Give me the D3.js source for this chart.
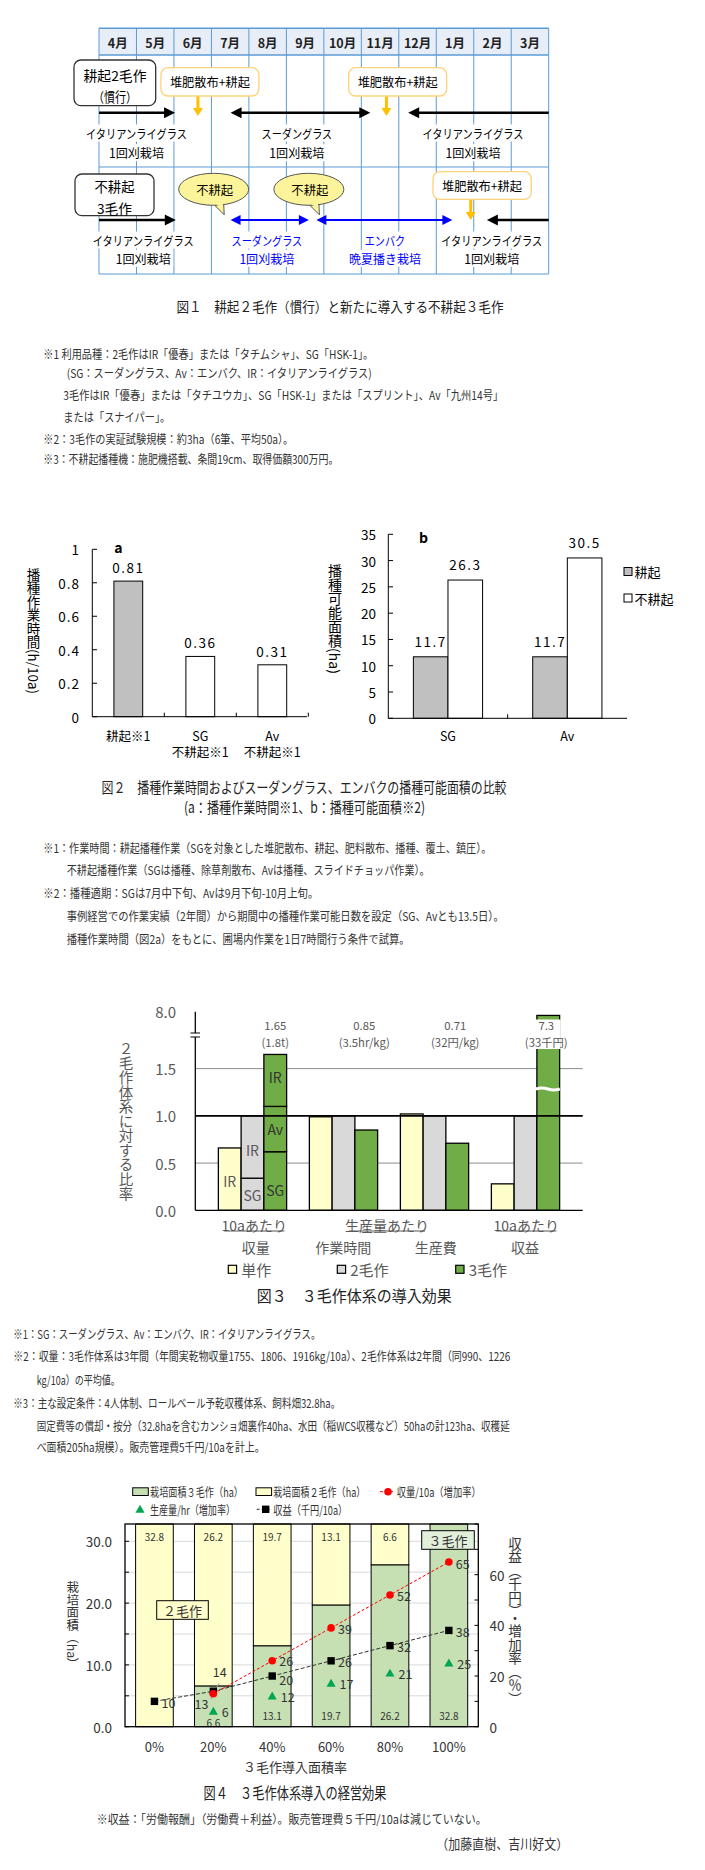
<!DOCTYPE html>
<html><head><meta charset="utf-8">
<script src="https://cdn.jsdelivr.net/npm/d3@7"></script>
<style>body{margin:0;background:#fff} svg{display:block}</style>
</head><body>
<svg id="c" width="705" height="1870"></svg>
<script>
// ===================== DATA =====================
// Figure 1 (calendar diagram)
const months = ['4月','5月','6月','7月','8月','9月','10月','11月','12月','1月','2月','3月'];
// arrow periods in months from start of April
const row1Arrows = [[0,2.03,false],[3.51,7.24,true],[12,8.25,false]];
const row2BlackArrows = [[0,2.05,false],[12,10.35,false]];
const row2BlueArrows = [[3.51,5.6,true],[5.8,9.43,true]];
const row1Crops = [['イタリアンライグラス','1回刈栽培',1.0],['スーダングラス','1回刈栽培',5.28],['イタリアンライグラス','1回刈栽培',9.98]];
const row2Crops = [['イタリアンライグラス','1回刈栽培',1.18,'#000'],['スーダングラス','1回刈栽培',4.48,'#0000ff'],['エンバク','晩夏播き栽培',7.63,'#0000ff'],['イタリアンライグラス','1回刈栽培',10.48,'#000']];
const row1Tillage = [2.96, 7.97];   // box centres
const row1TillArrow = [2.64, 7.67];
const row2Tillage = [10.22];
const row2TillArrow = [9.92];
const bubbles = [3.06, 5.6];

// Figure 2a
const cats2a = [['耕起※1'],['SG','不耕起※1'],['Av','不耕起※1']];
const vals2a = [0.81, 0.36, 0.31];
const ticks2a = [0,0.2,0.4,0.6,0.8,1];
// Figure 2b
const cats2b = ['SG','Av'];
const till2b = [11.7, 11.7];
const notill2b = [26.3, 30.5];
const ticks2b = [0,5,10,15,20,25,30,35];

// Figure 3
const groups3 = ['収量','作業時間','生産費','収益'];
const single3 = [0.66, 0.99, 1.02, 0.28];
const double3 = [1.0, 1.0, 1.0, 1.0];
const triple3 = [1.65, 0.85, 0.71, 7.3];
const doubleYieldParts = [['SG',0.34],['IR',0.66]];
const tripleYieldParts = [['SG',0.62],['Av',0.48],['IR',0.55]];
const topLabels3 = [['1.65','(1.8t)'],['0.85','(3.5hr/kg)'],['0.71','(32円/kg)'],['7.3','(33千円)']];
const ticks3 = [0,0.5,1.0,1.5,8.0];

// Figure 4
const pct4 = ['0%','20%','40%','60%','80%','100%'];
const area3crop = [0, 6.6, 13.1, 19.7, 26.2, 32.8];
const area2crop = [32.8, 26.2, 19.7, 13.1, 6.6, 0];
const yieldInc = [null, 13, 26, 39, 52, 65];
const prodInc = [null, 6, 12, 17, 21, 25];
const income = [10, 14, 20, 26, 32, 38];
const ticks4L = [0,10,20,30];
const ticks4R = [0,20,40,60];

// Notes
const notes1 = ['※1 利用品種：2毛作はIR「優春」または「タチムシャ」、SG「HSK-1」。',
 '(SG：スーダングラス、Av：エンバク、IR：イタリアンライグラス)',
 '3毛作はIR「優春」または「タチユウカ」、SG「HSK-1」または「スプリント」、Av「九州14号」',
 'または「スナイパー」。',
 '※2：3毛作の実証試験規模：約3ha（6筆、平均50a）。',
 '※3：不耕起播種機：施肥機搭載、条間19cm、取得価額300万円。'];
const notes2 = ['※1：作業時間：耕起播種作業（SGを対象とした堆肥散布、耕起、肥料散布、播種、覆土、鎮圧）。',
 '不耕起播種作業（SGは播種、除草剤散布、Avは播種、スライドチョッパ作業）。',
 '※2：播種適期：SGは7月中下旬、Avは9月下旬-10月上旬。',
 '事例経営での作業実績（2年間）から期間中の播種作業可能日数を設定（SG、Avとも13.5日）。',
 '播種作業時間（図2a）をもとに、圃場内作業を1日7時間行う条件で試算。'];
const notes3 = ['※1：SG：スーダングラス、Av：エンバク、IR：イタリアンライグラス。',
 '※2：収量：3毛作体系は3年間（年間実乾物収量1755、1806、1916kg/10a）、2毛作体系は2年間（同990、1226',
 'kg/10a）の平均値。',
 '※3：主な設定条件：4人体制、ロールベール予乾収穫体系、飼料畑32.8ha。',
 '固定費等の償却・按分（32.8haを含むカンショ畑裏作40ha、水田（稲WCS収穫など）50haの計123ha、収穫延',
 'べ面積205ha規模）。販売管理費5千円/10aを計上。'];

// ===================== DRAWING =====================
const F = "'Noto Sans CJK JP','Noto Sans',sans-serif";
const svg = d3.select('#c');
svg.append('rect').attr('width',705).attr('height',1870).attr('fill','#fff');

function T(g, s, x, y, o = {}) {
  const t = g.append('text').attr('x', x).attr('y', y).text(s)
    .attr('font-family', o.font || F).attr('font-size', o.size || 12)
    .attr('text-anchor', o.anchor || 'start').attr('fill', o.fill || '#000');
  if (o.vertical) t.style('writing-mode', 'vertical-rl');
  else t.attr('dominant-baseline','central');
  if (o.weight) t.attr('font-weight', o.weight);
  if (o.ls) t.attr('letter-spacing', o.ls);
  if (o.w) t.attr('textLength', o.w).attr('lengthAdjust','spacingAndGlyphs');
  if (o.bg) {
    const b = t.node().getBBox();
    g.insert('rect', () => t.node()).attr('x', b.x - 2).attr('y', b.y + 1).attr('width', b.width + 4).attr('height', b.height - 2).attr('fill', o.bg);
  }
  return t;
}
function arrowH(g, x1, x2, y, color, both, sw, hl, hw) {
  const dir = Math.sign(x2 - x1);
  g.append('line').attr('x1', both ? x1 + dir*hl*0.7 : x1).attr('x2', x2 - dir*hl*0.7)
    .attr('y1', y).attr('y2', y).attr('stroke', color).attr('stroke-width', sw);
  const head = (tip, d) => g.append('polygon')
    .attr('points', [[tip,y],[tip - d*hl, y - hw],[tip - d*hl, y + hw]].map(p => p.join(',')).join(' '))
    .attr('fill', color);
  head(x2, dir);
  if (both) head(x1, -dir);
}
function arrowDown(g, x, y1, y2, color) {
  g.append('line').attr('x1', x).attr('x2', x).attr('y1', y1).attr('y2', y2 - 6).attr('stroke', color).attr('stroke-width', 3);
  g.append('polygon').attr('points', `${x},${y2} ${x-5},${y2-8} ${x+5},${y2-8}`).attr('fill', color);
}

// ---------- Figure 1 ----------
{
  const g = svg.append('g');
  const mx = d3.scaleLinear().domain([0,12]).range([99,548.7]);
  const blue = '#5b9bd5';
  g.append('rect').attr('x', mx(0)).attr('y', 28.3).attr('width', mx(12)-mx(0)).attr('height', 26.7).attr('fill', '#e8eef8');
  d3.range(13).forEach(i => g.append('line').attr('x1', mx(i)).attr('x2', mx(i)).attr('y1', 28.3).attr('y2', 274).attr('stroke', blue).attr('stroke-width', 1));
  [28.3, 55, 167, 274].forEach(y => g.append('line').attr('x1', mx(0)).attr('x2', mx(12)).attr('y1', y).attr('y2', y).attr('stroke', blue).attr('stroke-width', y < 60 ? 1.5 : 1));
  months.forEach((m, i) => T(g, m, mx(i + 0.5), 42, {anchor:'middle', size:12.5, weight:'bold', fill:'#222'}));

  const box = (x, y, w, h, stroke) => g.append('rect').attr('x', x).attr('y', y).attr('width', w).attr('height', h).attr('rx', 7).attr('fill', '#fff').attr('stroke', stroke).attr('stroke-width', 1.3);
  // row 1
  box(74, 60, 81.7, 45.7, '#333');
  T(g, '耕起2毛作', 115, 75.2, {anchor:'middle', size:13.5, w:63});
  T(g, '（慣行）', 115, 95.5, {anchor:'middle', size:13.5, w:44});
  row1Tillage.forEach(c => { box(mx(c) - 49, 67.7, 98, 28.3, '#ffd27a'); T(g, '堆肥散布+耕起', mx(c), 81.8, {anchor:'middle', size:12.5, w:80}); });
  row1TillArrow.forEach(c => arrowDown(g, mx(c), 96.7, 116, '#ffc000'));
  row1Arrows.forEach(a => arrowH(g, mx(a[0]), mx(a[1]), 112.7, '#000', a[2], 2.5, 11, 5.5));
  row1Crops.forEach(c => {
    T(g, c[0], mx(c[2]), 133, {anchor:'middle', size:12.5, w: c[0].length * 10.1, bg:'#fff'});
    T(g, c[1], mx(c[2]), 152.7, {anchor:'middle', size:12.5, w:55, bg:'#fff'});
  });

  // row 2
  box(75, 174, 79, 41.7, '#333');
  T(g, '不耕起', 114.5, 186.3, {anchor:'middle', size:13.5, w:40});
  T(g, '3毛作', 114.5, 207.5, {anchor:'middle', size:13.5, w:35});
  bubbles.forEach(c => {
    const cx = mx(c), cy = 189.3;
    const tail = `${cx-1},${cy+14} ${cx+10},${cy+14} ${cx+10.5},${cy+25.5}`;
    g.append('polygon').attr('points', tail).attr('fill', '#fbf49a').attr('stroke', '#555').attr('stroke-width', 1);
    g.append('ellipse').attr('cx', cx).attr('cy', cy).attr('rx', 35).attr('ry', 16).attr('fill', '#fbf49a').attr('stroke', '#555').attr('stroke-width', 1);
    g.append('polygon').attr('points', `${cx},${cy+13} ${cx+9},${cy+13} ${cx+9.5},${cy+20}`).attr('fill', '#fbf49a');
    T(g, '不耕起', cx + 1, cy, {anchor:'middle', size:12.5, w:37});
  });
  row2Tillage.forEach(c => { box(mx(c) - 49, 171.7, 98.3, 27.6, '#ffd27a'); T(g, '堆肥散布+耕起', mx(c), 185.5, {anchor:'middle', size:12.5, w:80}); });
  row2TillArrow.forEach(c => arrowDown(g, mx(c), 200, 220, '#ffc000'));
  row2BlackArrows.forEach(a => arrowH(g, mx(a[0]), mx(a[1]), 220, '#000', a[2], 2.5, 11, 5.5));
  row2BlueArrows.forEach(a => arrowH(g, mx(a[0]), mx(a[1]), 220, '#0000ff', a[2], 2, 10, 5));
  row2Crops.forEach(c => {
    T(g, c[0], mx(c[2]), 240, {anchor:'middle', size:12.5, fill:c[3], w: c[0].length * 10.1, bg:'#fff'});
    T(g, c[1], mx(c[2]), 258.3, {anchor:'middle', size:12.5, fill:c[3], w: c[1].length * (c[1].length > 5 ? 12 : 11), bg:'#fff'});
  });
  T(g, '図１　耕起２毛作（慣行）と新たに導入する不耕起３毛作', 340, 306, {anchor:'middle', size:14, w:327, fill:'#222'});
}

// ---------- Notes helper ----------
function notes(lines, layout) {
  const g = svg.append('g');
  lines.forEach((s, i) => T(g, s, layout[i][0], layout[i][1], {size:12, w: layout[i][2], fill:'#333'}));
}
notes(notes1, [[43.3,353.3,330],[66.7,372.3,305],[63.3,394.3,440],[63.3,416.7,107],[43.3,438.3,250],[43.3,458.3,295]]);

// ---------- Figure 2a ----------
{
  const g = svg.append('g');
  const x = d3.scaleBand().domain(d3.range(3)).range([92.3, 308.3]).paddingInner(0.6).paddingOuter(0.3);
  const y = d3.scaleLinear().domain([0,1]).range([716.7, 549.3]);
  vals2a.forEach((v, i) => {
    g.append('rect').attr('x', x(i)).attr('y', y(v)).attr('width', x.bandwidth()).attr('height', y(0) - y(v))
      .attr('fill', i === 0 ? '#c0c0c0' : '#fff').attr('stroke', '#000').attr('stroke-width', 1);
    T(g, v.toFixed(2), x(i) + x.bandwidth()/2, y(v) - 14, {anchor:'middle', size:13.5, ls:1.5});
    cats2a[i].forEach((s, j) => T(g, s, x(i) + x.bandwidth()/2, 735 + j * 16.7, {anchor:'middle', size:12.5}));
  });
  g.append('line').attr('x1', 92.3).attr('x2', 92.3).attr('y1', y(1)).attr('y2', y(0)).attr('stroke', '#000');
  g.append('line').attr('x1', 92.3).attr('x2', 307).attr('y1', y(0)).attr('y2', y(0)).attr('stroke', '#000');
  ticks2a.forEach(t => {
    g.append('line').attr('x1', 92.3).attr('x2', 97).attr('y1', y(t)).attr('y2', y(t)).attr('stroke', '#000');
    T(g, t === 0 || t === 1 ? String(t) : t.toFixed(1), 80, y(t), {anchor:'end', size:13.5, ls:1});
  });
  [1,2,3].forEach(i => { const xx = 92.3 + i * x.step(); g.append('line').attr('x1', xx).attr('x2', xx).attr('y1', y(0)).attr('y2', y(0) - 4).attr('stroke', '#000'); });
  T(g, 'a', 114.3, 547, {size:14, weight:'bold'});
  T(g, '播種作業時間(h/10a)', 33.5, 631, {anchor:'middle', size:13.5, vertical:true});
}

// ---------- Figure 2b ----------
{
  const g = svg.append('g');
  const x = d3.scaleBand().domain(cats2b).range([388.3, 627]).paddingInner(0.42).paddingOuter(0.21);
  const xs = d3.scaleBand().domain(['till','notill']).range([0, x.bandwidth()]);
  const y = d3.scaleLinear().domain([0,35]).range([718.3, 534.3]);
  cats2b.forEach((c, i) => {
    [['till', till2b[i], '#c0c0c0'], ['notill', notill2b[i], '#fff']].forEach(([k, v, f]) => {
      const bx = x(c) + xs(k);
      g.append('rect').attr('x', bx).attr('y', y(v)).attr('width', xs.bandwidth()).attr('height', y(0) - y(v)).attr('fill', f).attr('stroke', '#000');
      T(g, v.toFixed(1), bx + xs.bandwidth()/2, y(v) - 16, {anchor:'middle', size:13.5, ls:1.5});
    });
    T(g, c, x(c) + x.bandwidth()/2, 735, {anchor:'middle', size:12.5});
  });
  g.append('line').attr('x1', 388.3).attr('x2', 388.3).attr('y1', y(35)).attr('y2', y(0)).attr('stroke', '#000');
  g.append('line').attr('x1', 388.3).attr('x2', 627).attr('y1', y(0)).attr('y2', y(0)).attr('stroke', '#000');
  ticks2b.forEach(t => {
    g.append('line').attr('x1', 388.3).attr('x2', 393).attr('y1', y(t)).attr('y2', y(t)).attr('stroke', '#000');
    T(g, String(t), 376, y(t), {anchor:'end', size:13.5});
  });
  g.append('line').attr('x1', 388.3 + x.step()).attr('x2', 388.3 + x.step()).attr('y1', y(0)).attr('y2', y(0) - 4).attr('stroke', '#000');
  T(g, 'b', 419, 537, {size:14, weight:'bold'});
  T(g, '播種可能面積(ha)', 335, 619, {anchor:'middle', size:14, vertical:true});
  [['耕起','#c0c0c0',571.5],['不耕起','#fff',598]].forEach(([s, f, yy]) => {
    g.append('rect').attr('x', 624).attr('y', yy - 4).attr('width', 8).attr('height', 8).attr('fill', f).attr('stroke', '#000');
    T(g, s, 634.5, yy, {size:13});
  });
}
{
  const g = svg.append('g');
  T(g, '図２　播種作業時間およびスーダングラス、エンバクの播種可能面積の比較', 304, 786.7, {anchor:'middle', size:15, w:405, fill:'#222'});
  T(g, '(a：播種作業時間※1、b：播種可能面積※2)', 304.5, 806.7, {anchor:'middle', size:15, w:241, fill:'#222'});
}
notes(notes2, [[43.3,847.3,448],[66.7,869,363],[43.3,892.3,275],[66.7,915,437],[66.7,938.3,343]]);

// ---------- Figure 3 ----------
{
  const g = svg.append('g');
  const gray = '#595959';
  const x = d3.scaleBand().domain(groups3).range([195.3, 582.7]).paddingInner(0.25).paddingOuter(0.2535);
  const xs = d3.scaleBand().domain(['s','d','t']).range([0, x.bandwidth()]);
  const y = d3.scaleLinear().domain([0, 1.75, 8]).range([1210.3, 1045, 1011.7]);
  const cols = {s:'#ffffcc', d:'#d9d9d9', t:'#70ad47'};
  [0.5, 1.5].forEach(t => g.append('line').attr('x1', 195.3).attr('x2', 582.7).attr('y1', y(t)).attr('y2', y(t)).attr('stroke', '#8c8c8c').attr('stroke-width', 1));
  const seg = (bx, v0, v1, f) => g.append('rect').attr('x', bx).attr('y', y(v1)).attr('width', xs.bandwidth()).attr('height', y(v0) - y(v1)).attr('fill', f).attr('stroke', '#000').attr('stroke-width', 1.3);
  groups3.forEach((grp, i) => {
    const xsx = x(grp) + xs('s'), xdx = x(grp) + xs('d'), xtx = x(grp) + xs('t');
    seg(xsx, 0, single3[i], cols.s);
    if (i === 0) {
      let acc = 0;
      doubleYieldParts.forEach(p => { seg(xdx, acc, acc + p[1], cols.d); acc += p[1]; });
      acc = 0;
      tripleYieldParts.forEach(p => { seg(xtx, acc, acc + p[1], cols.t); acc += p[1]; });
    } else {
      seg(xdx, 0, double3[i], cols.d);
      seg(xtx, 0, triple3[i], cols.t);
    }
  });
  g.append('line').attr('x1', 195.3).attr('x2', 582.7).attr('y1', y(1)).attr('y2', y(1)).attr('stroke', '#000').attr('stroke-width', 1.6);
  const c0 = groups3[0];
  const mid = (k) => x(c0) + xs(k) + xs.bandwidth()/2;
  T(g, 'IR', mid('s'), y(single3[0]/2) + 2, {anchor:'middle', size:14, fill:gray});
  let acc = 0;
  doubleYieldParts.forEach(p => { T(g, p[0], mid('d'), y(acc + p[1]/2) + (p[0]==='SG' ? 1 : 3), {anchor:'middle', size:14, fill:gray}); acc += p[1]; });
  acc = 0;
  tripleYieldParts.forEach(p => { T(g, p[0], mid('t'), y(acc + p[1]/2) + (p[0]==='IR' ? -3 : (p[0]==='SG' ? 9 : 0)), {anchor:'middle', size:14, fill:'#333'}); acc += p[1]; });
  const lastX = x(groups3[3]) + xs('t');
  g.append('path').attr('d', `M${lastX - 1},${1089} q6,-2 12,0 t12,0`).attr('fill', 'none').attr('stroke', '#fff').attr('stroke-width', 3);
  groups3.forEach((grp, i) => {
    const cx = x(grp) + xs('t') + xs.bandwidth()/2 - (i === 0 ? 0 : 2);
    if (i === 3) g.append('rect').attr('x', lastX - 1).attr('y', 1019.5).attr('width', xs.bandwidth() + 2).attr('height', 29.5).attr('fill', '#fff');
    T(g, topLabels3[i][0], cx, 1025.4, {anchor:'middle', size:11.3, fill:gray});
    T(g, topLabels3[i][1], cx, 1041.8, {anchor:'middle', size:11.3, fill:gray});
  });
  g.append('line').attr('x1', 195.3).attr('x2', 195.3).attr('y1', 1011.7).attr('y2', 1210.3).attr('stroke', '#000').attr('stroke-width', 1.3);
  g.append('line').attr('x1', 195.3).attr('x2', 582.7).attr('y1', 1210.3).attr('y2', 1210.3).attr('stroke', '#000').attr('stroke-width', 1.3);
  g.append('rect').attr('x', 190).attr('y', 1033).attr('width', 10).attr('height', 4).attr('fill', '#fff');
  [1033, 1037].forEach(yy => g.append('line').attr('x1', 190.5).attr('x2', 200).attr('y1', yy).attr('y2', yy).attr('stroke', '#000').attr('stroke-width', 1));
  ticks3.forEach(t => T(g, t.toFixed(1), 176, y(t), {anchor:'end', size:15, fill:gray}));
  T(g, '２毛作体系に対する比率', 126, 1121, {anchor:'middle', size:14.5, fill:gray, vertical:true});
  [['10aあたり', 254.3, 60], ['生産量あたり', 387, 76], ['10aあたり', 526.3, 60]].forEach(([s, cx, w]) => {
    T(g, s, cx, 1225, {anchor:'middle', size:14, fill:gray});
    g.append('line').attr('x1', cx - w/2).attr('x2', cx + w/2).attr('y1', 1231).attr('y2', 1231).attr('stroke', gray).attr('stroke-width', 1);
  });
  [255.7, 343.3, 435.7, 525].forEach((cx, i) => T(g, groups3[i], cx, 1246.7, {anchor:'middle', size:14, fill:gray}));
  [['単作', cols.s, 228.3], ['2毛作', cols.d, 337.3], ['3毛作', cols.t, 455.7]].forEach(([s, f, lx]) => {
    g.append('rect').attr('x', lx).attr('y', 1265.3).attr('width', 8.3).attr('height', 8).attr('fill', f).attr('stroke', '#000').attr('stroke-width', 1.2);
    T(g, s, lx + 13, 1269.5, {size:15, fill:gray});
  });
  T(g, '図３　３毛作体系の導入効果', 354.3, 1295, {anchor:'middle', size:15.5, w:195, fill:'#222'});
}
notes(notes3, [[13.3,1333.3,307],[13.3,1355,497],[36.7,1379,83],[13.3,1402.3,327],[36.7,1425,473],[36.7,1446.7,228]]);

// ---------- Figure 4 ----------
{
  const g = svg.append('g');
  const tc = '#333';
  const x = d3.scaleBand().domain(pct4).range([125, 478.3]).paddingInner(0.36).paddingOuter(0.18);
  const yL = d3.scaleLinear().domain([0, 32.8]).range([1726.7, 1524]);
  const yR = d3.scaleLinear().domain([0, 80]).range([1726.7, 1524]);
  const cx = (i) => x(pct4[i]) + x.bandwidth()/2;
  d3.range(5, 33, 5).forEach(t => g.append('line').attr('x1', 125).attr('x2', 478.3).attr('y1', yL(t)).attr('y2', yL(t)).attr('stroke', '#d9d9d9'));
  pct4.forEach((p, i) => {
    const a3 = area3crop[i], a2 = area2crop[i];
    if (a3 > 0) g.append('rect').attr('x', x(p)).attr('y', yL(a3)).attr('width', x.bandwidth()).attr('height', yL(0) - yL(a3)).attr('fill', '#c6e0b4').attr('stroke', '#000');
    if (a2 > 0) g.append('rect').attr('x', x(p)).attr('y', yL(a3 + a2)).attr('width', x.bandwidth()).attr('height', yL(a3) - yL(a3 + a2)).attr('fill', '#ffffcc').attr('stroke', '#000');
    if (a2 > 0) T(g, a2.toFixed(1), cx(i), 1536.7, {anchor:'middle', size:10, fill:tc});
    if (a3 > 0) T(g, a3.toFixed(1), cx(i), i === 1 ? 1722 : 1715, {anchor:'middle', size:10, fill:tc});
  });
  g.append('rect').attr('x', 125).attr('y', 1524).attr('width', 353.3).attr('height', 202.7).attr('fill', 'none').attr('stroke', '#000').attr('stroke-width', 1.3);
  d3.range(0, 33, 5).forEach(t => g.append('line').attr('x1', 125).attr('x2', 129).attr('y1', yL(t)).attr('y2', yL(t)).attr('stroke', '#000'));
  d3.range(0, 81, 10).forEach(t => g.append('line').attr('x1', 474.5).attr('x2', 478.3).attr('y1', yR(t)).attr('y2', yR(t)).attr('stroke', '#000'));
  ticks4L.forEach(t => T(g, t.toFixed(1), 112, yL(t), {anchor:'end', size:13.5, fill:tc}));
  ticks4R.forEach(t => T(g, String(t), 489.5, yR(t), {size:13.5, fill:tc}));
  pct4.forEach((p, i) => T(g, p, cx(i), 1746, {anchor:'middle', size:13, fill:tc}));
  g.append('rect').attr('x', 156.7).attr('y', 1600.7).attr('width', 51.6).attr('height', 18.6).attr('fill', '#ffffcc').attr('stroke', '#000');
  T(g, '２毛作', 182.5, 1610, {anchor:'middle', size:13, fill:tc});
  const lineGen = (yS) => d3.line().defined(d => d[1] != null).x(d => cx(d[0])).y(d => yS(d[1]));
  g.append('path').attr('d', lineGen(yR)(income.map((v, i) => [i, v]))).attr('fill', 'none').attr('stroke', '#333').attr('stroke-width', 1).attr('stroke-dasharray', '4,2');
  g.append('path').attr('d', lineGen(yR)(yieldInc.map((v, i) => [i, v]))).attr('fill', 'none').attr('stroke', '#ff0000').attr('stroke-width', 1).attr('stroke-dasharray', '3,2');
  g.append('line').attr('x1', 219.3).attr('y1', 1683.3).attr('x2', 214.5).attr('y2', 1690).attr('stroke', '#999');
  g.append('line').attr('x1', 211).attr('y1', 1699).attr('x2', 212.5).attr('y2', 1694).attr('stroke', '#999');
  income.forEach((v, i) => {
    g.append('rect').attr('x', cx(i) - 3.7).attr('y', yR(v) - 3.7).attr('width', 7.4).attr('height', 7.4).attr('fill', '#000');
  });
  yieldInc.forEach((v, i) => { if (v != null) g.append('circle').attr('cx', cx(i)).attr('cy', yR(v)).attr('r', 3.8).attr('fill', '#ff0000'); });
  prodInc.forEach((v, i) => { if (v != null) g.append('path').attr('d', d3.symbol(d3.symbolTriangle, 36)()).attr('transform', `translate(${cx(i)},${yR(v) + 0.5})`).attr('fill', '#00a651'); });
  const LS = 12.5;
  income.forEach((v, i) => {
    if (i === 1) T(g, String(v), 219.7, 1671.7, {anchor:'middle', size:LS, fill:tc});
    else T(g, String(v), cx(i) + 7, yR(v) + (i === 2 ? 3.2 : 1), {size:LS, fill:tc});
  });
  yieldInc.forEach((v, i) => {
    if (v == null) return;
    if (i === 1) T(g, String(v), 201.5, 1703.5, {anchor:'middle', size:LS, fill:tc});
    else T(g, String(v), cx(i) + 7, yR(v) + (i === 2 ? 0 : 1), {size:LS, fill:tc});
  });
  prodInc.forEach((v, i) => { if (v != null) T(g, String(v), cx(i) + 8.5, yR(v), {size:LS, fill:tc}); });
  g.append('rect').attr('x', 421.7).attr('y', 1530.7).attr('width', 52.6).attr('height', 18.6).attr('fill', '#e2efda').attr('stroke', '#000');
  T(g, '３毛作', 448, 1540, {anchor:'middle', size:13, fill:tc});
  T(g, '栽培面積（ha）', 72.7, 1626, {anchor:'middle', size:12.5, fill:tc, vertical:true});
  T(g, '収益（千円）・増加率（％）', 515, 1621, {anchor:'middle', size:13.5, fill:tc, vertical:true});
  T(g, '３毛作導入面積率', 295, 1766.7, {anchor:'middle', size:13, fill:tc});
  // legend
  g.append('rect').attr('x', 132.7).attr('y', 1487.8).attr('width', 15.6).attr('height', 7.7).attr('fill', '#c6e0b4').attr('stroke', '#000');
  T(g, '栽培面積３毛作（ha）', 150, 1491.7, {size:12, fill:tc, w:93});
  g.append('rect').attr('x', 256).attr('y', 1487.8).attr('width', 15.6).attr('height', 7.7).attr('fill', '#ffffcc').attr('stroke', '#000');
  T(g, '栽培面積２毛作（ha）', 273.3, 1491.7, {size:12, fill:tc, w:92});
  g.append('line').attr('x1', 380).attr('x2', 394).attr('y1', 1491.7).attr('y2', 1491.7).attr('stroke', '#ff0000').attr('stroke-dasharray', '3,2');
  g.append('circle').attr('cx', 388).attr('cy', 1491.7).attr('r', 3.8).attr('fill', '#ff0000');
  T(g, '収量/10a（増加率）', 396.7, 1491.7, {size:12, fill:tc, w:84});
  g.append('path').attr('d', d3.symbol(d3.symbolTriangle, 36)()).attr('transform', 'translate(140,1510)').attr('fill', '#00a651');
  T(g, '生産量/hr（増加率）', 150, 1509.3, {size:12, fill:tc, w:85});
  g.append('line').attr('x1', 256.7).attr('x2', 270).attr('y1', 1509.3).attr('y2', 1509.3).attr('stroke', '#333').attr('stroke-dasharray', '3,2');
  g.append('rect').attr('x', 262).attr('y', 1505.6).attr('width', 7.4).attr('height', 7.4).attr('fill', '#000');
  T(g, '収益（千円/10a）', 273.3, 1509.3, {size:12, fill:tc, w:74});
  T(g, '図４　３毛作体系導入の経営効果', 295, 1792.3, {anchor:'middle', size:15.5, w:183, fill:'#222'});
  T(g, '※収益：「労働報酬」（労働費＋利益）。販売管理費５千円/10aは減じていない。', 96.7, 1818.3, {size:12, w:390, fill:'#333'});
  T(g, '（加藤直樹、吉川好文）', 568.3, 1843.3, {anchor:'end', size:13.5, w:132, fill:'#333'});
}
</script></body></html>
